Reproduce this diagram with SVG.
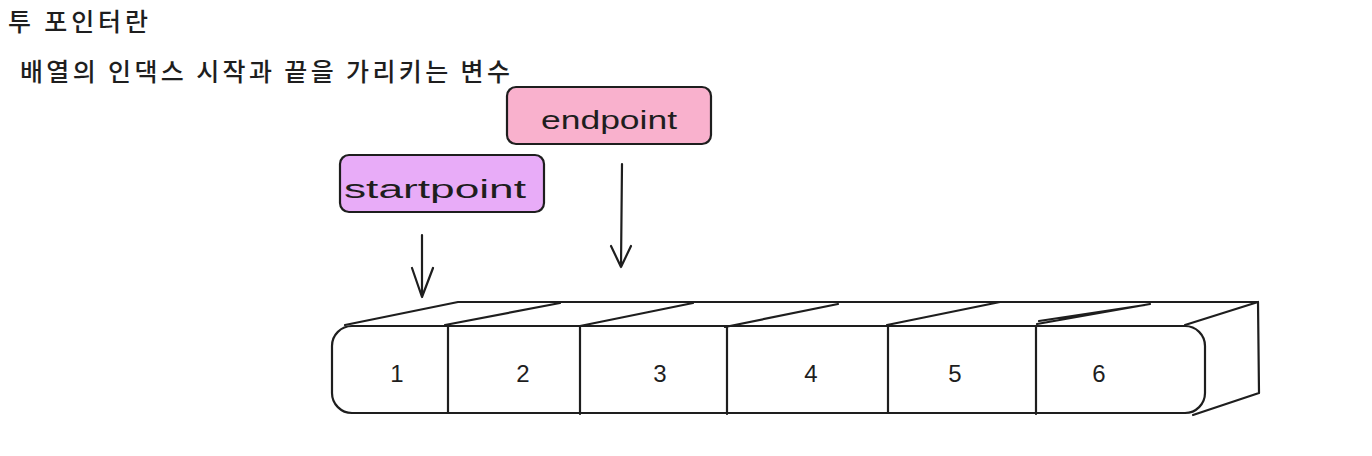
<svg xmlns="http://www.w3.org/2000/svg" width="1372" height="456" viewBox="0 0 1372 456">
<style>
.ln{fill:none;stroke:#1e1e1e;stroke-width:2.2;stroke-linecap:round;stroke-linejoin:round}
.box{stroke:#1e1e1e;stroke-width:2.2}
.ko{font-family:"Noto Sans CJK KR","Noto Sans",sans-serif;font-size:25px;font-weight:500;fill:#1e1e1e}
.lb{font-family:"Liberation Sans","DejaVu Sans",sans-serif;font-size:25px;fill:#1e1e1e}
.num{font-family:"Liberation Sans","DejaVu Sans",sans-serif;font-size:24px;fill:#1e1e1e;text-anchor:middle}
</style>
<rect width="1372" height="456" fill="#ffffff"/>
<g id="title">
<text class="ko" x="8" y="31" textLength="140" lengthAdjust="spacing">투 포인터란</text>
<text class="ko" x="20" y="81" textLength="490" lengthAdjust="spacing">배열의 인댁스 시작과 끝을 가리키는 변수</text>
</g>
<g id="endpoint">
<rect x="507" y="87" width="204" height="57" rx="9" fill="#f9b1cd" class="box"/>
<text class="lb" x="541" y="129" textLength="136" lengthAdjust="spacingAndGlyphs">endpoint</text>
</g>
<g id="startpoint">
<rect x="340" y="155" width="204" height="57" rx="9" fill="#e8acf8" class="box"/>
<text class="lb" x="344" y="198" textLength="182" lengthAdjust="spacingAndGlyphs">startpoint</text>
</g>
<g id="connectors">
<path class="ln" d="M422 235 L422 297 M412 268 L422 297 L433 268"/>
<path class="ln" d="M622 164 L621 267 M611 246 L621 267 L631 246"/>
</g>
<g id="array">
<path class="ln" d="M345 325 L458 302 L1258 302"/>
<path class="ln" d="M445 325 L560 303 M580 326 L693 303 M725 327 L838 304 M887 325 L1000 302 M1037 324 L1150 304 M1039 321 L1145 305"/>
<path class="ln" d="M1185 325 L1258 302 L1259 393 L1193 415"/>
<rect x="332" y="326" width="873" height="87" rx="20" class="ln"/>
<path class="ln" d="M448 326 L448 413 M580 327 L580 414 M727 327 L727 414 M888 326 L888 413 M1036 326 L1036 414"/>
</g>
<g id="cells">
<text class="num" x="397" y="382">1</text>
<text class="num" x="523" y="382">2</text>
<text class="num" x="660" y="382">3</text>
<text class="num" x="811" y="382">4</text>
<text class="num" x="955" y="382">5</text>
<text class="num" x="1099" y="382">6</text>
</g>
</svg>
